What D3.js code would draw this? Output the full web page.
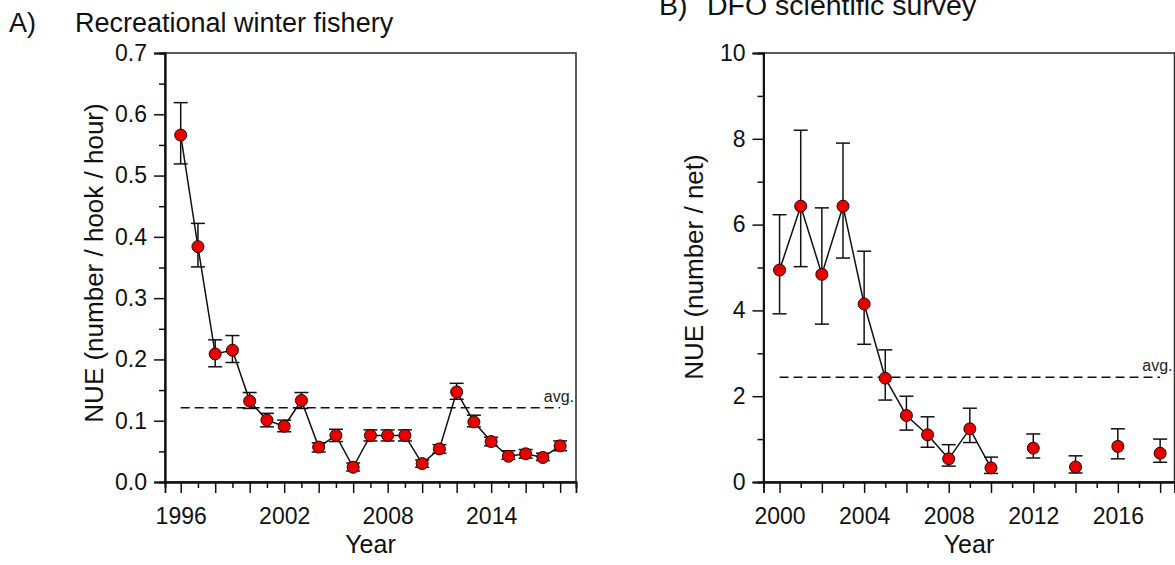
<!DOCTYPE html>
<html>
<head>
<meta charset="utf-8">
<script src="https://cdn.jsdelivr.net/npm/d3@7"></script>
<style>
  html, body { margin: 0; padding: 0; background: #fff; }
  svg { display: block; font-family: "Liberation Sans", Arial, sans-serif; }
</style>
</head>
<body>
<svg id="chart" width="1175" height="565"></svg>
<script>
// ---------- Panel A: Recreational winter fishery ----------
const yearsA = [1996,1997,1998,1999,2000,2001,2002,2003,2004,2005,2006,2007,2008,2009,2010,2011,2012,2013,2014,2015,2016,2017,2018];
const nueA   = [0.566,0.384,0.209,0.215,0.132,0.101,0.091,0.133,0.057,0.076,0.024,0.076,0.076,0.076,0.030,0.054,0.147,0.098,0.066,0.042,0.046,0.040,0.059];
const upperA = [0.619,0.422,0.232,0.239,0.146,0.112,0.101,0.146,0.064,0.086,0.031,0.085,0.085,0.085,0.036,0.061,0.161,0.109,0.073,0.051,0.053,0.047,0.067];
const lowerA = [0.519,0.351,0.188,0.195,0.120,0.090,0.082,0.120,0.049,0.066,0.018,0.067,0.067,0.067,0.024,0.047,0.135,0.090,0.059,0.037,0.039,0.035,0.051];
const avgA = 0.121;
const xLabelsA = [1996, 2002, 2008, 2014];
const yTicksA = [0, 0.1, 0.2, 0.3, 0.4, 0.5, 0.6, 0.7];
const yMinorA = [0.05, 0.15, 0.25, 0.35, 0.45, 0.55, 0.65];

// ---------- Panel B: DFO scientific survey ----------
const yearsB = [2000,2001,2002,2003,2004,2005,2006,2007,2008,2009,2010,2012,2014,2016,2018];
const nueB   = [4.94,6.43,4.84,6.43,4.15,2.42,1.55,1.10,0.54,1.24,0.33,0.79,0.35,0.83,0.67];
const upperB = [6.23,8.20,6.39,7.90,5.38,3.08,2.00,1.52,0.87,1.72,0.58,1.12,0.61,1.24,1.00];
const lowerB = [3.92,5.02,3.68,5.22,3.21,1.91,1.21,0.81,0.37,0.92,0.20,0.56,0.21,0.54,0.46];
const connectedB = [true,true,true,true,true,true,true,true,true,true,true,false,false,false,false];
const avgB = 2.44;
const xLabelsB = [2000, 2004, 2008, 2012, 2016];
const yTicksB = [0, 2, 4, 6, 8, 10];
const yMinorB = [1, 3, 5, 7, 9];

const svg = d3.select("#chart");

function panel(cfg) {
  const g = svg.append("g");
  const x = d3.scaleLinear().domain(cfg.xDomain).range(cfg.xRange);
  const y = d3.scaleLinear().domain(cfg.yDomain).range([482, 53]);
  const data = cfg.years.map((yr, i) => ({yr, v: cfg.nue[i], hi: cfg.upper[i], lo: cfg.lower[i], c: cfg.connected ? cfg.connected[i] : true}));

  // frame (top & right)
  g.append("rect")
    .attr("x", cfg.xRange[0]).attr("y", 53)
    .attr("width", cfg.xRange[1] - cfg.xRange[0]).attr("height", 482 - 53)
    .attr("fill", "none").attr("stroke", "#333").attr("stroke-width", 1.6);

  const allYears = d3.range(Math.ceil(cfg.xDomain[0]), Math.floor(cfg.xDomain[1]) + 1);
  const evenYears = allYears.filter(d => d % 2 === 0);
  const oddYears = allYears.filter(d => d % 2 !== 0);

  // x axis
  const xMinor = g.append("g").attr("transform", "translate(0,482)")
    .call(d3.axisBottom(x).tickValues(oddYears).tickSize(6).tickFormat(""));
  const xMajor = g.append("g").attr("transform", "translate(0,482)")
    .call(d3.axisBottom(x).tickValues(evenYears).tickSize(11).tickPadding(15)
      .tickFormat(d => cfg.xLabels.includes(d) ? String(d) : ""));
  // y axis
  const yMinor = g.append("g").attr("transform", `translate(${cfg.xRange[0]},0)`)
    .call(d3.axisLeft(y).tickValues(cfg.yMinor).tickSize(6).tickFormat(""));
  const yMajor = g.append("g").attr("transform", `translate(${cfg.xRange[0]},0)`)
    .call(d3.axisLeft(y).tickValues(cfg.yTicks).tickSize(11).tickPadding(7).tickFormat(cfg.yFormat));

  [xMinor, xMajor, yMinor, yMajor].forEach(a => {
    a.select(".domain").attr("stroke", "#111").attr("stroke-width", 1.8);
    a.selectAll(".tick line").attr("stroke", "#111").attr("stroke-width", 1.5);
    a.selectAll(".tick text").attr("fill", "#111").style("font-size", "23px")
      .style("font-family", "'Liberation Sans', Arial, sans-serif");
  });

  // avg dashed line
  g.append("line")
    .attr("x1", x(cfg.years[0])).attr("x2", x(cfg.years[cfg.years.length - 1]))
    .attr("y1", y(cfg.avg)).attr("y2", y(cfg.avg))
    .attr("stroke", "#111").attr("stroke-width", 1.5).attr("stroke-dasharray", "9,5");
  g.append("text")
    .attr("x", cfg.xRange[1] - 2).attr("y", y(cfg.avg) - 6)
    .attr("text-anchor", "end").style("font-size", "16px").attr("fill", "#222")
    .text("avg.");

  // connecting line
  const line = d3.line().defined(d => d.c).x(d => x(d.yr)).y(d => y(d.v));
  g.append("path").datum(data).attr("d", line)
    .attr("fill", "none").attr("stroke", "#111").attr("stroke-width", 1.5);

  // error bars
  const eb = g.append("g").attr("stroke", "#111").attr("stroke-width", 1.5);
  data.forEach(d => {
    eb.append("line").attr("x1", x(d.yr)).attr("x2", x(d.yr)).attr("y1", y(d.lo)).attr("y2", y(d.hi));
    eb.append("line").attr("x1", x(d.yr) - 7).attr("x2", x(d.yr) + 7).attr("y1", y(d.hi)).attr("y2", y(d.hi));
    eb.append("line").attr("x1", x(d.yr) - 7).attr("x2", x(d.yr) + 7).attr("y1", y(d.lo)).attr("y2", y(d.lo));
  });

  // points
  g.append("g").selectAll("circle").data(data).join("circle")
    .attr("cx", d => x(d.yr)).attr("cy", d => y(d.v)).attr("r", 6)
    .attr("fill", "#e60000").attr("stroke", "#2a0000").attr("stroke-width", 1);

  // axis titles
  g.append("text")
    .attr("transform", `translate(${cfg.yTitleX},${cfg.yTitleY}) rotate(-90)`)
    .attr("text-anchor", "middle").style("font-size", "26px").attr("fill", "#111")
    .text(cfg.yTitle);
  g.append("text")
    .attr("x", (cfg.xRange[0] + cfg.xRange[1]) / 2).attr("y", 553)
    .attr("text-anchor", "middle").style("font-size", "25px").attr("fill", "#111")
    .text("Year");
  // panel title: letter and text placed separately (tab-like gap)
  g.append("text")
    .attr("x", cfg.titleX).attr("y", cfg.titleY)
    .style("font-size", cfg.titleSize).attr("fill", "#111")
    .text(cfg.letter);
  g.append("text")
    .attr("x", cfg.titleTextX).attr("y", cfg.titleY)
    .style("font-size", cfg.titleSize).attr("fill", "#111")
    .text(cfg.title);
}

panel({
  years: yearsA, nue: nueA, upper: upperA, lower: lowerA, avg: avgA,
  xDomain: [1995.09, 2018.92], xRange: [165, 576],
  yDomain: [0, 0.7], yTicks: yTicksA, yMinor: yMinorA, yFormat: d3.format(".1f"),
  xLabels: xLabelsA, yTitle: "NUE (number / hook / hour)", yTitleX: 103, yTitleY: 263,
  letter: "A)", title: "Recreational winter fishery", titleX: 9, titleTextX: 75, titleY: 32, titleSize: "27px"
});

panel({
  years: yearsB, nue: nueB, upper: upperB, lower: lowerB, avg: avgB, connected: connectedB,
  xDomain: [1999.24, 2018.68], xRange: [763.5, 1174.5],
  yDomain: [0, 10], yTicks: yTicksB, yMinor: yMinorB, yFormat: d3.format("d"),
  xLabels: xLabelsB, yTitle: "NUE (number / net)", yTitleX: 703, yTitleY: 267,
  letter: "B)", title: "DFO scientific survey", titleX: 659, titleTextX: 707, titleY: 15, titleSize: "28.5px"
});
</script>
</body>
</html>
